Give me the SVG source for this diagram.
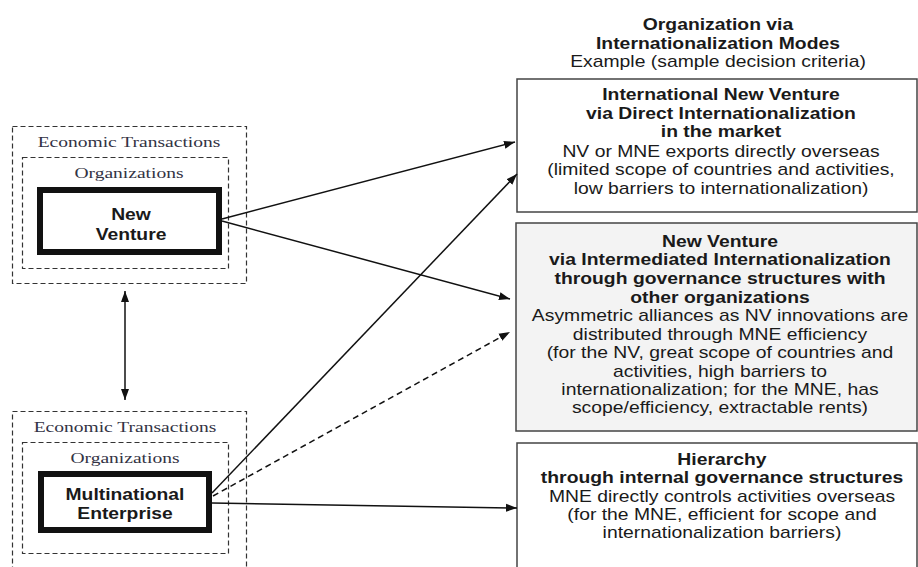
<svg xmlns="http://www.w3.org/2000/svg" width="918" height="567" viewBox="0 0 918 567">
  <style>
    .dash { fill: none; stroke: #333; stroke-width: 1.2; stroke-dasharray: 5 3; }
    .thick { fill: #fff; stroke: #111; stroke-width: 6; }
    .box { fill: #fff; stroke: #444; stroke-width: 1.5; }
    .box.gray { fill: #f3f3f3; }
    .serif { font-family: "Liberation Serif", "Times New Roman", serif; font-size: 15.5px; fill: #333344; text-anchor: middle; }
    .sans { font-family: "Liberation Sans", Arial, sans-serif; font-size: 16px; fill: #1a1a1a; text-anchor: middle; }
    .b { font-weight: bold; }
    .big { font-size: 16.5px; }
    .conn { stroke: #111; stroke-width: 1.5; fill: none; }
    .dashed { stroke-dasharray: 6 4; }
  </style>
  <defs>
    <marker id="head" markerWidth="12" markerHeight="9" refX="11" refY="4.5" orient="auto" markerUnits="userSpaceOnUse">
      <path d="M0,0.5 L11,4.5 L0,8.5 Z" fill="#111"/>
    </marker>
    <marker id="tail" markerWidth="12" markerHeight="9" refX="1" refY="4.5" orient="auto" markerUnits="userSpaceOnUse">
      <path d="M12,0.5 L1,4.5 L12,8.5 Z" fill="#111"/>
    </marker>
  </defs>

  <rect width="918" height="567" fill="#fff"/>

  <!-- column header -->
  <g id="header" transform="translate(718,0) scale(1.21,1)">
    <text class="sans b" x="0" y="30">Organization via</text>
    <text class="sans b" x="0" y="49">Internationalization Modes</text>
    <text class="sans" x="0" y="67">Example (sample decision criteria)</text>
  </g>

  <!-- new venture with its context -->
  <g id="new-venture">
    <rect class="dash" x="12.5" y="126.5" width="234" height="157"/>
    <rect class="dash" x="22.5" y="157.5" width="206" height="111"/>
    <rect class="thick" x="40" y="190" width="179" height="62"/>
    <g transform="translate(129,0) scale(1.26,1)">
      <text class="serif" x="0" y="147">Economic Transactions</text>
      <text class="serif" x="0" y="178">Organizations</text>
    </g>
    <g transform="translate(131,0) scale(1.17,1)">
      <text class="sans b big" x="0" y="220">New</text>
      <text class="sans b big" x="0" y="240">Venture</text>
    </g>
  </g>

  <!-- multinational enterprise with its context -->
  <g id="multinational">
    <rect class="dash" x="12.5" y="411.5" width="234" height="170"/>
    <rect class="dash" x="22.5" y="442.5" width="206" height="111"/>
    <rect class="thick" x="41" y="474" width="168" height="56"/>
    <g transform="translate(125,0) scale(1.26,1)">
      <text class="serif" x="0" y="432">Economic Transactions</text>
      <text class="serif" x="0" y="463">Organizations</text>
    </g>
    <g transform="translate(125,0) scale(1.17,1)">
      <text class="sans b big" x="0" y="500">Multinational</text>
      <text class="sans b big" x="0" y="519">Enterprise</text>
    </g>
  </g>

  <!-- market mode -->
  <g id="mode-market">
    <rect class="box" x="517" y="79" width="400" height="133"/>
    <g transform="translate(721,0) scale(1.21,1)">
      <text class="sans b" x="0" y="100">International New Venture</text>
      <text class="sans b" x="0" y="119">via Direct Internationalization</text>
      <text class="sans b" x="0" y="137">in the market</text>
      <text class="sans" x="0" y="157">NV or MNE exports directly overseas</text>
      <text class="sans" x="0" y="175">(limited scope of countries and activities,</text>
      <text class="sans" x="0" y="194">low barriers to internationalization)</text>
    </g>
  </g>

  <!-- intermediated mode -->
  <g id="mode-intermediated">
    <rect class="box gray" x="516" y="223" width="401" height="208"/>
    <g transform="translate(720,0) scale(1.21,1)">
      <text class="sans b" x="0" y="247">New Venture</text>
      <text class="sans b" x="0" y="265">via Intermediated Internationalization</text>
      <text class="sans b" x="0" y="284">through governance structures with</text>
      <text class="sans b" x="0" y="303">other organizations</text>
      <text class="sans" x="0" y="321">Asymmetric alliances as NV innovations are</text>
      <text class="sans" x="0" y="340">distributed through MNE efficiency</text>
      <text class="sans" x="0" y="358">(for the NV, great scope of countries and</text>
      <text class="sans" x="0" y="377">activities, high barriers to</text>
      <text class="sans" x="0" y="395">internationalization; for the MNE, has</text>
      <text class="sans" x="0" y="413">scope/efficiency, extractable rents)</text>
    </g>
  </g>

  <!-- hierarchy mode -->
  <g id="mode-hierarchy">
    <rect class="box" x="517" y="443" width="400" height="140"/>
    <g transform="translate(722,0) scale(1.21,1)">
      <text class="sans b" x="0" y="465">Hierarchy</text>
      <text class="sans b" x="0" y="483">through internal governance structures</text>
      <text class="sans" x="0" y="502">MNE directly controls activities overseas</text>
      <text class="sans" x="0" y="520">(for the MNE, efficient for scope and</text>
      <text class="sans" x="0" y="538">internationalization barriers)</text>
    </g>
  </g>

  <!-- connectors -->
  <g id="connectors">
    <line class="conn" x1="125" y1="291" x2="125" y2="400" marker-start="url(#tail)" marker-end="url(#head)"/>
    <line class="conn" x1="222" y1="219" x2="515" y2="142" marker-end="url(#head)"/>
    <line class="conn" x1="222" y1="221" x2="510" y2="299" marker-end="url(#head)"/>
    <line class="conn" x1="212" y1="493" x2="517" y2="174" marker-end="url(#head)"/>
    <line class="conn dashed" x1="213" y1="496" x2="510" y2="332" marker-end="url(#head)"/>
    <line class="conn" x1="212" y1="503" x2="517" y2="508" marker-end="url(#head)"/>
  </g>
</svg>
